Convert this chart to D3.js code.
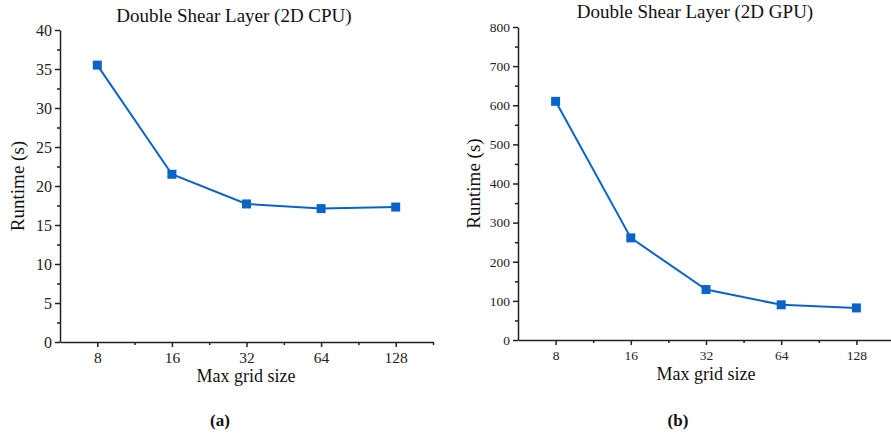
<!DOCTYPE html>
<html>
<head>
<meta charset="utf-8">
<script src="https://cdn.jsdelivr.net/npm/d3@7"></script>
<style>
  body { margin: 0; background: #fff; }
  svg { display: block; font-family: "Liberation Serif", "Times New Roman", serif; }
</style>
</head>
<body>
<div id="chart"></div>
<script>
const W = 891, H = 433;

// data
const gridSizes = [8, 16, 32, 64, 128];
const cpuRuntime = [35.5, 21.5, 17.7, 17.1, 17.3];
const gpuRuntime = [610, 261, 129, 90, 82];
const cpuTicks = [0, 5, 10, 15, 20, 25, 30, 35, 40];
const gpuTicks = [0, 100, 200, 300, 400, 500, 600, 700, 800];

const lineColor = '#0a64c8';
const serif = '"Liberation Serif", "Times New Roman", serif';

const svg = d3.select('#chart')
    .append('svg')
    .attr('width', W)
    .attr('height', H);

function drawPanel(opt){
    const g = svg.append('g');

    const x = d3.scaleLinear()
        .domain([2.5, 7.5])
        .range([opt.left, opt.right]);
    const y = d3.scaleLinear()
        .domain([0, opt.yMax])
        .range([opt.bottom, opt.top]);

    // y axis: major + minor ticks
    const yMinor = d3.range(0, opt.yMax + 0.001, opt.yStep / 2).filter(v => !opt.yTicks.includes(v));
    g.append('g')
        .attr('transform', `translate(${opt.left},0)`)
        .call(d3.axisLeft(y).tickValues(yMinor).tickSize(3).tickFormat(''))
        .call(a => a.select('.domain').remove());
    const ya = g.append('g')
        .attr('transform', `translate(${opt.left},0)`)
        .call(d3.axisLeft(y).tickValues(opt.yTicks).tickSize(5).tickSizeOuter(0).tickPadding(3))
        .attr('font-family', serif);
    ya.selectAll('text').style('font-size', opt.yTickFont + 'px').attr('fill', '#222');

    // x axis (log2 positions)
    const xMinor = [3.5, 4.5, 5.5, 6.5, 7.5];
    g.append('g')
        .attr('transform', `translate(0,${opt.bottom})`)
        .call(d3.axisBottom(x).tickValues(xMinor).tickSize(3).tickFormat(''))
        .call(a => a.select('.domain').remove());
    const xa = g.append('g')
        .attr('transform', `translate(0,${opt.bottom})`)
        .call(d3.axisBottom(x).tickValues(gridSizes.map(Math.log2)).tickSize(5).tickSizeOuter(0)
            .tickPadding(5).tickFormat((d, i) => gridSizes[i]))
        .attr('font-family', serif);
    xa.selectAll('text').style('font-size', opt.xTickFont + 'px').attr('fill', '#222');

    g.selectAll('.domain, .tick line').attr('stroke', '#222').attr('stroke-width', 1.5);

    const pts = gridSizes.map((s, i) => [x(Math.log2(s)), y(opt.values[i])]);

    g.append('path')
        .attr('d', d3.line()(pts))
        .attr('fill', 'none')
        .attr('stroke', lineColor)
        .attr('stroke-width', 2);

    g.selectAll('rect.m')
        .data(pts)
        .join('rect')
        .attr('class', 'm')
        .attr('x', d => d[0] - 4.5)
        .attr('y', d => d[1] - 4.5)
        .attr('width', 9)
        .attr('height', 9)
        .attr('fill', lineColor);

    // titles / labels
    g.append('text')
        .attr('x', opt.titleX).attr('y', opt.titleY)
        .attr('text-anchor', 'middle')
        .style('font-size', '19px').attr('fill', '#111')
        .text(opt.title);

    g.append('text')
        .attr('transform', `translate(${opt.yLabelX},${(opt.top + opt.bottom) / 2}) rotate(-90)`)
        .attr('text-anchor', 'middle')
        .style('font-size', '19px').attr('fill', '#111')
        .text('Runtime (s)');

    g.append('text')
        .attr('x', opt.xLabelX).attr('y', opt.bottom + 40)
        .attr('text-anchor', 'middle')
        .style('font-size', '18px').attr('fill', '#111')
        .text('Max grid size');

    g.append('text')
        .attr('x', opt.capX).attr('y', 426)
        .attr('text-anchor', 'middle')
        .style('font-size', '17px').style('font-weight', 'bold').attr('fill', '#111')
        .text(opt.caption);
}

drawPanel({
    left: 60, right: 433, top: 30, bottom: 342,
    yMax: 40, yStep: 5, yTicks: cpuTicks, values: cpuRuntime,
    yTickFont: 16, xTickFont: 15.5, title: 'Double Shear Layer (2D CPU)', titleX: 234, titleY: 22,
    yLabelX: 24, xLabelX: 246, capX: 220, caption: '(a)'
});

drawPanel({
    left: 518, right: 894, top: 27, bottom: 340,
    yMax: 800, yStep: 100, yTicks: gpuTicks, values: gpuRuntime,
    yTickFont: 13.5, xTickFont: 13.5, title: 'Double Shear Layer (2D GPU)', titleX: 695, titleY: 18,
    yLabelX: 480, xLabelX: 706, capX: 678, caption: '(b)'
});
</script>
</body>
</html>
